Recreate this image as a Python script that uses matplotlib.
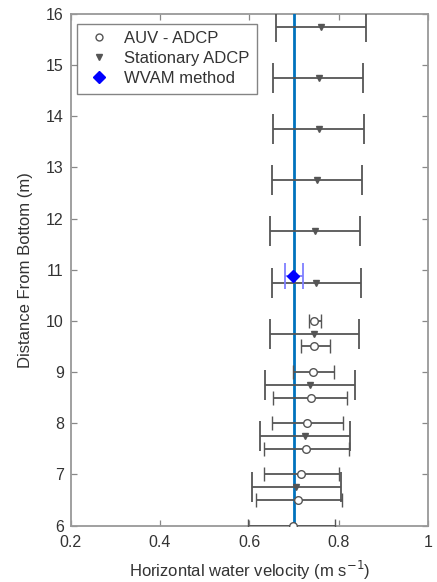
import matplotlib
matplotlib.use("Agg")
import matplotlib.pyplot as plt
from matplotlib.lines import Line2D
import numpy as np

plt.rcParams['font.family'] = ['Liberation Sans', 'DejaVu Sans']

# AUV - ADCP (circles)
auv_depth = [6.0, 6.5, 7.0, 7.5, 8.0, 8.5, 9.0, 9.5, 10.0]
auv_vel   = [0.698, 0.709, 0.716, 0.727, 0.729, 0.739, 0.742, 0.746, 0.746]
auv_low   = [0.596, 0.615, 0.632, 0.632, 0.650, 0.653, 0.698, 0.715, 0.733]
auv_high  = [0.791, 0.807, 0.802, 0.823, 0.810, 0.819, 0.789, 0.780, 0.761]

# Stationary ADCP (triangles)
st_depth = [6.75, 7.75, 8.75, 9.75, 10.75, 11.75, 12.75, 13.75, 14.75, 15.75]
st_vel   = [0.705, 0.725, 0.735, 0.745, 0.750, 0.748, 0.751, 0.756, 0.756, 0.761]
st_low   = [0.606, 0.625, 0.636, 0.647, 0.650, 0.647, 0.651, 0.653, 0.653, 0.660]
st_high  = [0.805, 0.825, 0.836, 0.846, 0.851, 0.849, 0.852, 0.856, 0.855, 0.862]

# WVAM method
wv_depth = [10.87]
wv_vel   = [0.698]
wv_low   = [0.679]
wv_high  = [0.720]

wvam_line = 0.70

xticks = [0.2, 0.4, 0.6, 0.8, 1.0]
xticklabels = ['0.2', '0.4', '0.6', '0.8', '1']
yticks = list(range(6, 17))

fig = plt.figure(figsize=(4.37, 5.82), dpi=100)
ax = fig.add_axes([0.162, 0.097, 0.817, 0.879])

gray = '#555555'

def err(v, lo, hi):
    v = np.array(v); lo = np.array(lo); hi = np.array(hi)
    return [v - lo, hi - v]

ax.axvline(wvam_line, color='#0072BD', lw=2, zorder=3)

ax.errorbar(auv_vel, auv_depth, xerr=err(auv_vel, auv_low, auv_high), fmt='o',
            mfc='white', mec=gray, ms=5.5, mew=1.0, ecolor=gray, elinewidth=1.3,
            capsize=5.2, capthick=1.3, zorder=4)
ax.errorbar(st_vel, st_depth, xerr=err(st_vel, st_low, st_high), fmt='v',
            mfc=gray, mec=gray, ms=4.5, ecolor=gray, elinewidth=1.3,
            capsize=10.5, capthick=1.3, zorder=4)
ax.errorbar(wv_vel, wv_depth, xerr=err(wv_vel, wv_low, wv_high), fmt='D',
            mfc='#0000FF', mec='#0000FF', ms=6, ecolor='#7f7fff', elinewidth=1.3,
            capsize=9.5, capthick=1.3, zorder=5)

ax.set_xlim(0.2, 1.0)
ax.set_ylim(6, 16)
ax.set_xticks(xticks)
ax.set_xticklabels(xticklabels)
ax.set_yticks(yticks)
ax.tick_params(direction='in', top=True, right=True, length=4, width=0.9,
               colors='#888888', labelsize=11.5, labelcolor='#333333')
ax.tick_params(axis='x', pad=7)
ax.tick_params(axis='y', pad=5)
for s in ax.spines.values():
    s.set_color('#999999')
    s.set_linewidth(1.3)

ax.set_xlabel('Horizontal water velocity (m s$^{-1}$)', fontsize=12, color='#333333', labelpad=6)
ax.set_ylabel('Distance From Bottom (m)', fontsize=12, color='#333333', labelpad=9)

handles = [
    Line2D([], [], ls='none', marker='o', mfc='white', mec=gray, ms=5),
    Line2D([], [], ls='none', marker='v', mfc=gray, mec=gray, ms=4.5),
    Line2D([], [], ls='none', marker='D', mfc='#0000FF', mec='#0000FF', ms=6.5),
]
labels = ['AUV - ADCP', 'Stationary ADCP', 'WVAM method']
leg = ax.legend(handles, labels, loc='upper left', bbox_to_anchor=(0.017, 0.981), fontsize=12,
                frameon=True, fancybox=False, edgecolor='#666666', handlelength=1.8,
                borderpad=0.45, labelspacing=0.3, handletextpad=0.6, borderaxespad=0)
leg.get_frame().set_linewidth(1.0)
for t in leg.get_texts():
    t.set_color('#333333')

fig.savefig('out.png', dpi=100)
